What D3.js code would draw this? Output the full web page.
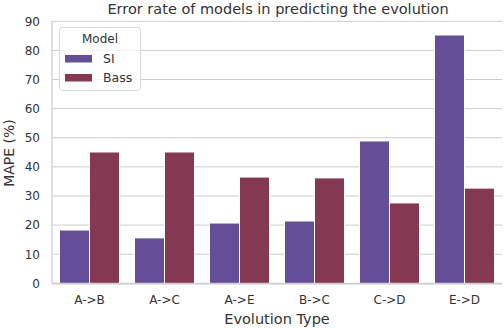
<!DOCTYPE html>
<html><head><meta charset="utf-8">
<script src="https://cdn.jsdelivr.net/npm/d3@7"></script>
<style>body{margin:0;background:#fff;}svg{display:block;font-family:"DejaVu Sans",sans-serif;}</style>
</head><body><svg id="c" width="504" height="328"></svg>
<script>
const categories = ["A->B","A->C","A->E","B->C","C->D","E->D"];
const seriesNames = ["SI","Bass"];
const siValues = [18.3,15.6,20.7,21.4,48.9,85.3];
const bassValues = [45.1,45.1,36.5,36.2,27.6,32.7];
const yTicks = [0,10,20,30,40,50,60,70,80,90];
const colors = ["#634e97","#853852"];

const svg = d3.select("#c");
const m = {l:52, r:502, t:21.3, b:283.3};
const x = d3.scaleBand().domain(categories).range([m.l,m.r]).paddingInner(0.2).paddingOuter(0.1);
const x1 = d3.scaleBand().domain(seriesNames).range([0,x.bandwidth()]);
const y = d3.scaleLinear().domain([0,90]).range([m.b,m.t]);
const txt = "#333333";

// grid
svg.append("g").selectAll("line").data(yTicks).join("line")
  .attr("x1",m.l).attr("x2",m.r).attr("y1",d=>y(d)).attr("y2",d=>y(d))
  .attr("stroke","#cccccc").attr("stroke-width",1);

// bars
const data = categories.map((c,i)=>({c, vals:[siValues[i],bassValues[i]]}));
const g = svg.append("g").selectAll("g").data(data).join("g").attr("transform",d=>`translate(${x(d.c)},0)`);
g.selectAll("rect").data(d=>d.vals.map((v,j)=>({s:seriesNames[j],v,j}))).join("rect")
  .attr("x",d=>x1(d.s)).attr("width",x1.bandwidth())
  .attr("y",d=>y(d.v)).attr("height",d=>y(0)-y(d.v))
  .attr("fill",d=>colors[d.j]).attr("stroke","#fff").attr("stroke-width",1);

// spines
svg.append("line").attr("x1",m.l).attr("x2",m.l).attr("y1",m.t).attr("y2",m.b).attr("stroke","#cccccc").attr("stroke-width",1.25);
svg.append("line").attr("x1",m.l).attr("x2",m.r).attr("y1",m.b+0.5).attr("y2",m.b+0.5).attr("stroke","#cccccc").attr("stroke-width",1.5);

// y axis
const ya = svg.append("g").attr("transform",`translate(${m.l},0)`).call(d3.axisLeft(y).tickValues(yTicks).tickSize(0).tickPadding(12));
ya.select(".domain").remove();
ya.selectAll("text").attr("fill",txt).style("font-size","12px").style("font-family","DejaVu Sans");

// x axis
const xa = svg.append("g").attr("transform",`translate(0,${m.b})`).call(d3.axisBottom(x).tickSize(0).tickPadding(12));
xa.select(".domain").remove();
xa.selectAll("text").attr("fill",txt).style("font-size","12px").style("font-family","DejaVu Sans");

// labels
svg.append("text").attr("x",(m.l+m.r)/2+1).attr("y",14).attr("text-anchor","middle").attr("fill",txt).style("font-size","14.5px").text("Error rate of models in predicting the evolution");
svg.append("text").attr("x",(m.l+m.r)/2+0).attr("y",324).attr("text-anchor","middle").attr("fill",txt).style("font-size","14.5px").text("Evolution Type");
svg.append("text").attr("transform",`translate(14,${153}) rotate(-90)`).attr("text-anchor","middle").attr("fill",txt).style("font-size","14px").text("MAPE (%)");

// legend
const lg = svg.append("g");
lg.append("rect").attr("x",59.5).attr("y",27.5).attr("width",81).attr("height",63).attr("rx",2.5)
  .attr("fill","#fff").attr("fill-opacity",0.8).attr("stroke","#d9d9d9");
lg.append("text").attr("x",100).attr("y",43).attr("text-anchor","middle").attr("fill",txt).style("font-size","12px").text("Model");
seriesNames.forEach((s,i)=>{
  lg.append("rect").attr("x",65).attr("y",55+i*19).attr("width",27).attr("height",7.5).attr("fill",colors[i]);
  lg.append("text").attr("x",103).attr("y",63+i*19).attr("fill",txt).style("font-size","12.5px").text(s);
});
</script></body></html>
